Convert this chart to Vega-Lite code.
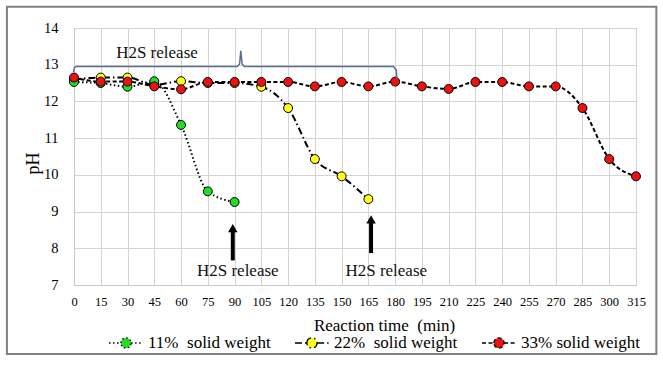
{
  "$schema": "https://vega.github.io/schema/vega-lite/v6.json",
  "width": 562,
  "height": 257,
  "autosize": {"type": "none"},
  "padding": {"left": 74, "top": 28, "right": 27, "bottom": 81},
  "background": "white",
  "config": {
    "font": "Liberation Serif, Liberation Sans, sans-serif",
    "view": {"stroke": "black", "strokeWidth": 1},
    "axis": {"labelFont": "Liberation Serif, Liberation Sans, sans-serif", "titleFont": "Liberation Serif, Liberation Sans, sans-serif", "labelColor": "black", "titleColor": "black", "titleFontWeight": "normal", "ticks": false, "gridColor": "#d4d4d4", "gridWidth": 1, "domainColor": "#c8c8c8", "labelOverlap": false, "labelSeparation": 0, "labelBound": false, "labelFlush": false},
    "legend": {"labelFont": "Liberation Serif, Liberation Sans, sans-serif"},
    "text": {"font": "Liberation Serif, Liberation Sans, sans-serif"}
  },
  "datasets": {
    "series": [
      {"time": 0, "pH": 12.6, "series": "22%\u00a0 solid weight"},
      {"time": 15, "pH": 12.65, "series": "22%\u00a0 solid weight"},
      {"time": 30, "pH": 12.65, "series": "22%\u00a0 solid weight"},
      {"time": 45, "pH": 12.45, "series": "22%\u00a0 solid weight"},
      {"time": 60, "pH": 12.55, "series": "22%\u00a0 solid weight"},
      {"time": 75, "pH": 12.5, "series": "22%\u00a0 solid weight"},
      {"time": 90, "pH": 12.5, "series": "22%\u00a0 solid weight"},
      {"time": 105, "pH": 12.4, "series": "22%\u00a0 solid weight"},
      {"time": 120, "pH": 11.82, "series": "22%\u00a0 solid weight"},
      {"time": 135, "pH": 10.43, "series": "22%\u00a0 solid weight"},
      {"time": 150, "pH": 9.96, "series": "22%\u00a0 solid weight"},
      {"time": 165, "pH": 9.34, "series": "22%\u00a0 solid weight"},
      {"time": 0, "pH": 12.53, "series": "11%\u00a0 solid weight"},
      {"time": 15, "pH": 12.5, "series": "11%\u00a0 solid weight"},
      {"time": 30, "pH": 12.4, "series": "11%\u00a0 solid weight"},
      {"time": 45, "pH": 12.55, "series": "11%\u00a0 solid weight"},
      {"time": 60, "pH": 11.36, "series": "11%\u00a0 solid weight"},
      {"time": 75, "pH": 9.55, "series": "11%\u00a0 solid weight"},
      {"time": 90, "pH": 9.26, "series": "11%\u00a0 solid weight"},
      {"time": 0, "pH": 12.65, "series": "33% solid weight"},
      {"time": 15, "pH": 12.54, "series": "33% solid weight"},
      {"time": 30, "pH": 12.54, "series": "33% solid weight"},
      {"time": 45, "pH": 12.41, "series": "33% solid weight"},
      {"time": 60, "pH": 12.33, "series": "33% solid weight"},
      {"time": 75, "pH": 12.53, "series": "33% solid weight"},
      {"time": 90, "pH": 12.53, "series": "33% solid weight"},
      {"time": 105, "pH": 12.53, "series": "33% solid weight"},
      {"time": 120, "pH": 12.53, "series": "33% solid weight"},
      {"time": 135, "pH": 12.41, "series": "33% solid weight"},
      {"time": 150, "pH": 12.53, "series": "33% solid weight"},
      {"time": 165, "pH": 12.41, "series": "33% solid weight"},
      {"time": 180, "pH": 12.54, "series": "33% solid weight"},
      {"time": 195, "pH": 12.41, "series": "33% solid weight"},
      {"time": 210, "pH": 12.34, "series": "33% solid weight"},
      {"time": 225, "pH": 12.53, "series": "33% solid weight"},
      {"time": 240, "pH": 12.53, "series": "33% solid weight"},
      {"time": 255, "pH": 12.41, "series": "33% solid weight"},
      {"time": 270, "pH": 12.41, "series": "33% solid weight"},
      {"time": 285, "pH": 11.82, "series": "33% solid weight"},
      {"time": 300, "pH": 10.43, "series": "33% solid weight"},
      {"time": 315, "pH": 9.96, "series": "33% solid weight"}
    ],
    "brace": [
      {"order": 1, "time": -0.3, "pH": 12.8},
      {"order": 2, "time": 0.2, "pH": 12.92},
      {"order": 3, "time": 1.2, "pH": 12.95},
      {"order": 4, "time": 91.5, "pH": 12.95},
      {"order": 5, "time": 92.8, "pH": 13.02},
      {"order": 6, "time": 93.5, "pH": 13.38},
      {"order": 7, "time": 94.2, "pH": 13.02},
      {"order": 8, "time": 95.5, "pH": 12.95},
      {"order": 9, "time": 179, "pH": 12.95},
      {"order": 10, "time": 180.6, "pH": 12.86},
      {"order": 11, "time": 181, "pH": 12.6}
    ],
    "arrows": [
      {"time": 89, "tail": 7.67, "shaftTop": 8.45, "head": 8.55},
      {"time": 166.5, "tail": 7.87, "shaftTop": 8.7, "head": 8.79}
    ],
    "labels": [
      {"time": 46.5, "pH": 13.33, "text": "H2S release"},
      {"time": 91.8, "pH": 7.39, "text": "H2S release"},
      {"time": 175, "pH": 7.39, "text": "H2S release"}
    ],
    "frame": [
      {"x1": -37.6, "x2": 326.4, "y1": 5.12, "y2": 14.58}
    ]
  },
  "encoding": {
    "x": {"field": "time", "type": "quantitative", "scale": {"domain": [0, 315], "nice": false, "zero": false},
      "axis": {"values": [0,15,30,45,60,75,90,105,120,135,150,165,180,195,210,225,240,255,270,285,300,315], "labelFontSize": 12.5, "labelPadding": 10, "labelOverlap": false, "labelFlush": false, "title": "Reaction time\u00a0 (min)", "titleFontSize": 17, "titleX": 310, "titleY": 40, "titleBaseline": "middle", "titleAlign": "center"}},
    "y": {"field": "pH", "type": "quantitative", "scale": {"domain": [7, 14], "nice": false, "zero": false},
      "axis": {"values": [7,8,9,10,11,12,13,14], "labelFontSize": 14.5, "labelPadding": 16, "labelOverlap": false, "title": "pH", "titleFontSize": 18, "titleX": -41, "titleY": 135, "titleAngle": -90, "titleAlign": "center", "titleBaseline": "middle"}}
  },
  "layer": [
    {
      "data": {"name": "series"},
      "mark": {"type": "line", "interpolate": "monotone", "color": "black", "strokeWidth": 2},
      "encoding": {
        "detail": {"field": "series"},
        "strokeDash": {"field": "series", "type": "nominal",
          "scale": {"domain": ["11%\u00a0 solid weight", "22%\u00a0 solid weight", "33% solid weight"], "range": [[1.5, 2.5], [7, 3, 1.5, 3], [4, 2.5]]},
          "legend": {"title": null}}
      }
    },
    {
      "data": {"name": "series"},
      "mark": {"type": "point", "filled": true, "shape": "circle", "size": 80, "stroke": "black", "strokeWidth": 1, "opacity": 1},
      "encoding": {
        "fill": {"field": "series", "type": "nominal",
          "scale": {"domain": ["11%\u00a0 solid weight", "22%\u00a0 solid weight", "33% solid weight"], "range": ["#22dd22", "#ffff1a", "#ee1111"]},
          "legend": {
            "title": null, "orient": "none", "direction": "horizontal", "legendX": 34, "legendY": 297,
            "symbolType": "M-1,0H-0.3M0.3,0H1M-0.3,0A0.3,0.3,0,1,1,0.3,0A0.3,0.3,0,1,1,-0.3,0Z",
            "symbolSize": 1156, "symbolStrokeColor": "black", "symbolStrokeWidth": 1.3, "symbolOpacity": 1,
            "labelFontSize": 17, "labelColor": "black", "labelOffset": 4, "columnPadding": 21, "labelLimit": 300
          }}
      }
    },
    {
      "data": {"name": "brace"},
      "mark": {"type": "line", "color": "#5a6d8f", "strokeWidth": 1.5, "clip": false},
      "encoding": {
        "order": {"field": "order", "type": "quantitative"}
      }
    },
    {
      "data": {"name": "arrows"},
      "mark": {"type": "rule", "color": "black", "strokeWidth": 4},
      "encoding": {
        "y": {"field": "tail", "type": "quantitative"},
        "y2": {"field": "shaftTop"}
      }
    },
    {
      "data": {"name": "arrows"},
      "mark": {"type": "point", "shape": "triangle-up", "filled": true, "color": "black", "size": 90, "opacity": 1},
      "encoding": {
        "y": {"field": "head", "type": "quantitative"}
      }
    },
    {
      "data": {"name": "labels"},
      "mark": {"type": "text", "fontSize": 17, "color": "#111111", "align": "center", "baseline": "middle"},
      "encoding": {
        "text": {"field": "text"}
      }
    },
    {
      "data": {"name": "frame"},
      "mark": {"type": "rect", "fill": null, "fillOpacity": 0, "stroke": "#808080", "strokeWidth": 2, "clip": false},
      "encoding": {
        "x": {"field": "x1", "type": "quantitative"},
        "x2": {"field": "x2"},
        "y": {"field": "y1", "type": "quantitative"},
        "y2": {"field": "y2"}
      }
    }
  ]
}
